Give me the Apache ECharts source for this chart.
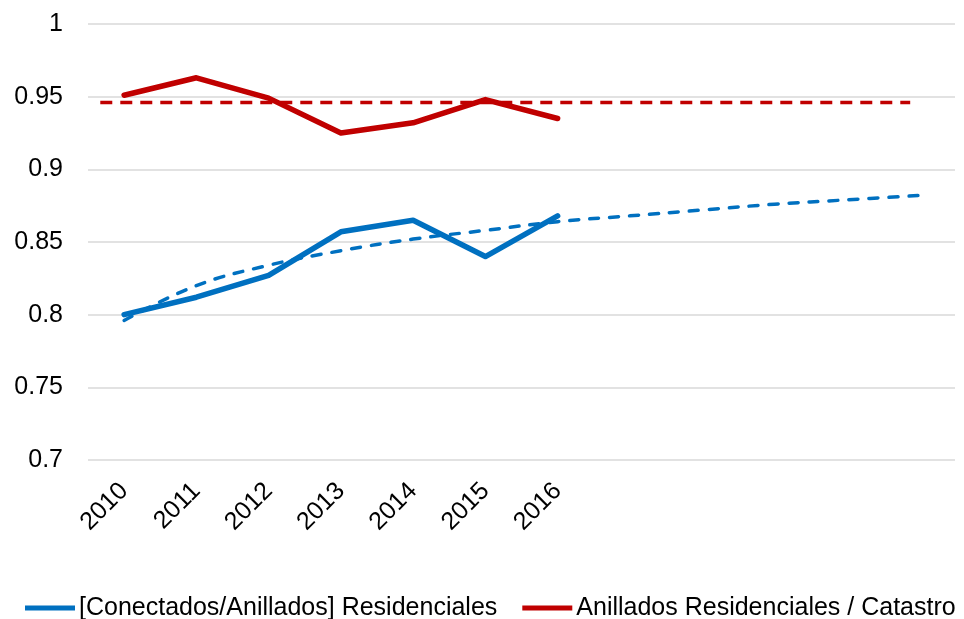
<!DOCTYPE html>
<html>
<head>
<meta charset="utf-8">
<script src="https://cdn.jsdelivr.net/npm/echarts@6/dist/echarts.min.js"></script>
<style>
html,body{margin:0;padding:0;background:#fff;}
#chart{width:964px;height:619px;}
</style>
</head>
<body>
<div id="chart"></div>
<script>
// Category labels (x axis extends 5 blank periods for trend forecast)
const categories = ['2010','2011','2012','2013','2014','2015','2016','','','','',''];
const yTicks = { min: 0.7, max: 1, interval: 0.05 };

const blueName = '[Conectados/Anillados] Residenciales';
const redName = 'Anillados Residenciales / Catastro';

const blueValues = [0.800, 0.812, 0.827, 0.857, 0.865, 0.840, 0.868];
const redValues  = [0.951, 0.963, 0.949, 0.925, 0.932, 0.948, 0.935];

// Trend lines (x in category index units)
const blueTrendX = [0, 1, 2, 3, 4, 5, 6, 7, 8, 9, 10, 11];
const blueTrendY = [0.796, 0.820, 0.834, 0.844, 0.852, 0.858, 0.864, 0.868, 0.872, 0.876, 0.879, 0.882];
const redTrendX = [-0.33, 10.88];
const redTrendY = [0.946, 0.946];

const BLUE = '#0070C0';
const RED = '#C00000';
const FONT = 'Liberation Sans, Arial, sans-serif';

const chart = echarts.init(document.getElementById('chart'), null, {renderer: 'canvas'});
chart.setOption({
  animation: false,
  backgroundColor: '#ffffff',
  grid: { left: 88, right: 9, top: 24, bottom: 159, containLabel: false },
  legend: {
    left: 25,
    top: 593,
    width: 939,
    padding: 0,
    icon: 'rect',
    itemWidth: 50,
    itemHeight: 5,
    itemGap: 25,
    textStyle: { fontFamily: FONT, fontSize: 25, color: '#000', lineHeight: 30, padding: [0, 0, 0, -1] },
    data: [blueName, redName]
  },
  xAxis: [
    {
      type: 'category',
      data: categories,
      boundaryGap: true,
      axisLine: { show: false },
      axisTick: { show: false },
      splitLine: { show: false },
      axisLabel: {
        rotate: 45,
        interval: 0,
        margin: 27,
        fontFamily: FONT,
        fontSize: 25,
        color: '#000'
      }
    },
    {
      type: 'value',
      min: -0.5,
      max: 11.5,
      show: false
    }
  ],
  yAxis: {
    type: 'value',
    min: yTicks.min,
    max: yTicks.max,
    interval: yTicks.interval,
    axisLine: { show: false },
    axisTick: { show: false },
    axisLabel: { margin: 25, fontFamily: FONT, fontSize: 25, color: '#000' },
    splitLine: { lineStyle: { color: '#D9D9D9', width: 1.5 } }
  },
  series: [
    {
      name: blueName,
      type: 'line',
      data: blueValues,
      symbol: 'none',
      color: BLUE,
      lineStyle: { color: BLUE, width: 5.5, cap: 'round', join: 'round' },
      z: 3
    },
    {
      name: redName,
      type: 'line',
      data: redValues,
      symbol: 'none',
      color: RED,
      lineStyle: { color: RED, width: 5.5, cap: 'round', join: 'round' },
      z: 3
    },
    {
      name: 'blueTrend',
      type: 'line',
      xAxisIndex: 1,
      data: blueTrendX.map((x, i) => [x, blueTrendY[i]]),
      symbol: 'none',
      smooth: 0.4,
      lineStyle: { color: BLUE, width: 3.5, type: [9, 11], cap: 'round' },
      z: 2
    },
    {
      name: 'redTrend',
      type: 'line',
      xAxisIndex: 1,
      data: redTrendX.map((x, i) => [x, redTrendY[i]]),
      symbol: 'none',
      lineStyle: { color: RED, width: 3.5, type: [12, 8], cap: 'butt' },
      z: 2
    }
  ]
});
</script>
</body>
</html>
